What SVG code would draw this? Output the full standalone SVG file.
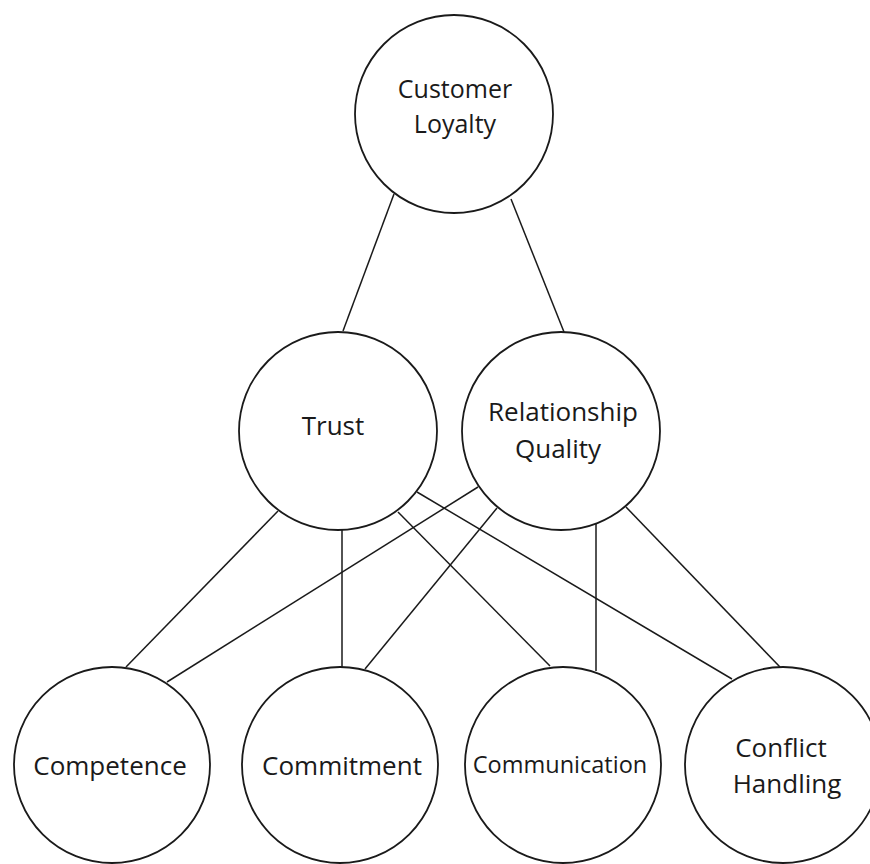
<svg xmlns="http://www.w3.org/2000/svg" width="870" height="864" viewBox="0 0 870 864">
  <style>
    .node circle { fill: #ffffff; stroke: #1a1a1a; stroke-width: 1.8; }
    .node text { font-family: "Open Sans", "Noto Sans", sans-serif; font-size: 26px; fill: #1a1a1a; text-anchor: middle; }
    .node text.mid { font-size: 25px; }
    .node text.small { font-size: 23.5px; }
    #connectors line { stroke: #1a1a1a; stroke-width: 1.5; fill: none; }
  </style>
  <rect width="870" height="864" fill="#ffffff"/>

  <!-- edges between the constructs -->
  <g id="connectors">
    <line x1="394" y1="194" x2="343" y2="331"/>
    <line x1="511" y1="199" x2="564" y2="332"/>
    <line x1="278" y1="511" x2="126" y2="667"/>
    <line x1="478" y1="487" x2="167" y2="682"/>
    <line x1="342" y1="530" x2="342" y2="667"/>
    <line x1="497" y1="508" x2="365" y2="669"/>
    <line x1="398" y1="512" x2="550" y2="666"/>
    <line x1="417" y1="492" x2="732" y2="679"/>
    <line x1="596" y1="524" x2="596" y2="671"/>
    <line x1="626" y1="507" x2="780" y2="667"/>
  </g>

  <g id="customer-loyalty" class="node">
    <circle cx="454" cy="114" r="99"/>
    <text class="mid" x="455" y="98">Customer</text>
    <text class="mid" x="455" y="133">Loyalty</text>
  </g>

  <g id="trust" class="node">
    <circle cx="338" cy="431" r="99"/>
    <text x="333" y="435">Trust</text>
  </g>

  <g id="relationship-quality" class="node">
    <circle cx="561" cy="431" r="99"/>
    <text x="563" y="421">Relationship</text>
    <text x="558" y="458">Quality</text>
  </g>

  <g id="competence" class="node">
    <circle cx="112" cy="765" r="98"/>
    <text x="110" y="775">Competence</text>
  </g>

  <g id="commitment" class="node">
    <circle cx="340" cy="765" r="98"/>
    <text x="342" y="775">Commitment</text>
  </g>

  <g id="communication" class="node">
    <circle cx="563" cy="765" r="98"/>
    <text class="small" x="560" y="773">Communication</text>
  </g>

  <g id="conflict-handling" class="node">
    <circle cx="783" cy="765" r="98"/>
    <text x="781" y="757">Conflict</text>
    <text x="787" y="793">Handling</text>
  </g>
</svg>
